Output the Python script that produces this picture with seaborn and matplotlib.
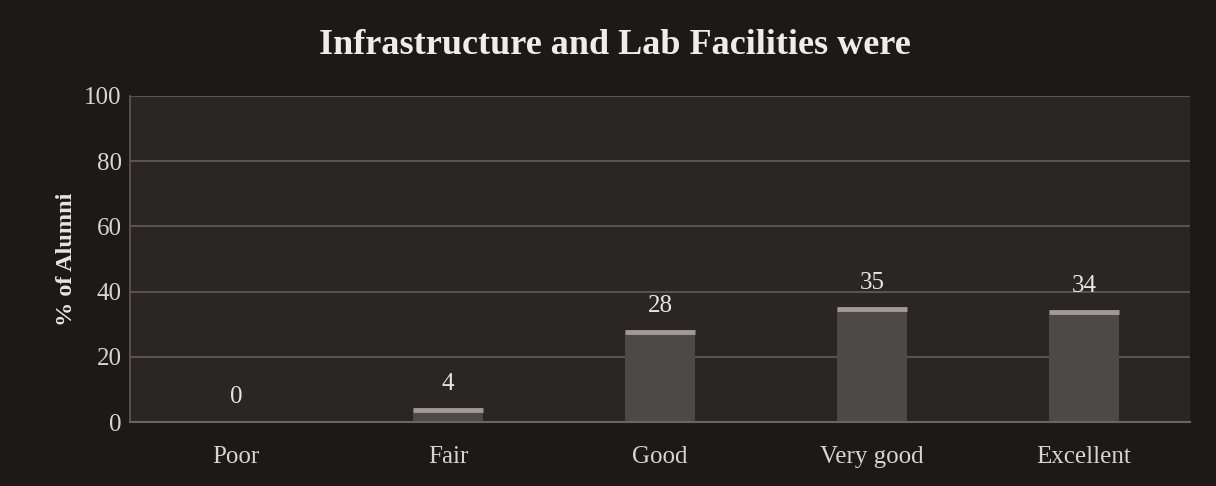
import matplotlib
matplotlib.use("Agg")
import matplotlib.pyplot as plt
import seaborn as sns
import pandas as pd
import numpy as np

categories = ["Poor", "Fair", "Good", "Very good", "Excellent"]
values = [0, 4, 28, 35, 34]
yticks = [0, 20, 40, 60, 80, 100]
title = "Infrastructure and Lab Facilities were"
ylabel = "% of Alumni"

df = pd.DataFrame({"cat": categories, "val": values})

sns.set_theme(style="dark")
plt.rcParams["font.family"] = ["Liberation Serif", "DejaVu Serif"]

fig = plt.figure(figsize=(12.16, 4.86), dpi=100, facecolor="#1d1919")
ax = fig.add_axes([130/1216, 1 - 422/486, 1060/1216, 326/486])
ax.set_facecolor("#2a2624")

sns.barplot(data=df, x="cat", y="val", ax=ax, color="#4d4948", width=0.33,
            saturation=1, edgecolor="none")
# lighter top edge highlight
for p in ax.patches:
    h = p.get_height()
    if h > 0:
        ax.plot([p.get_x(), p.get_x() + p.get_width()], [h - 0.4, h - 0.4],
                color="#a09a96", lw=3.5, solid_capstyle="butt", zorder=3)

for i, v in enumerate(values):
    ax.annotate(str(v), (i, v), xytext=(0, 10), textcoords="offset points",
                ha="center", va="bottom", color="#e8e4e0", fontsize=18)

ax.set_ylim(0, 100)
ax.set_xlim(-0.5, len(categories) - 0.5)
ax.set_yticks(yticks)
ax.yaxis.grid(True, color="#625d5b", lw=1.2)
ax.xaxis.grid(False)
ax.set_axisbelow(True)
for s in ["top", "right"]:
    ax.spines[s].set_visible(False)
ax.spines["left"].set_color("#5c5756")
ax.spines["bottom"].set_color("#6a6462")
ax.spines["bottom"].set_linewidth(1.5)

ax.tick_params(axis="both", colors="#d8d4d0", labelsize=18, length=0)
ax.tick_params(axis="x", pad=17)
ax.tick_params(axis="y", pad=6)
ax.set_xlabel("")
ax.set_ylabel(ylabel, color="#e8e4e0", fontsize=17.5, fontweight="bold", labelpad=5)

fig.text(615/1216, 1 - 45/486, title, ha="center", va="center",
         color="#f0ece8", fontsize=26, fontweight="bold")

fig.savefig("out.png", dpi=100, facecolor=fig.get_facecolor())
